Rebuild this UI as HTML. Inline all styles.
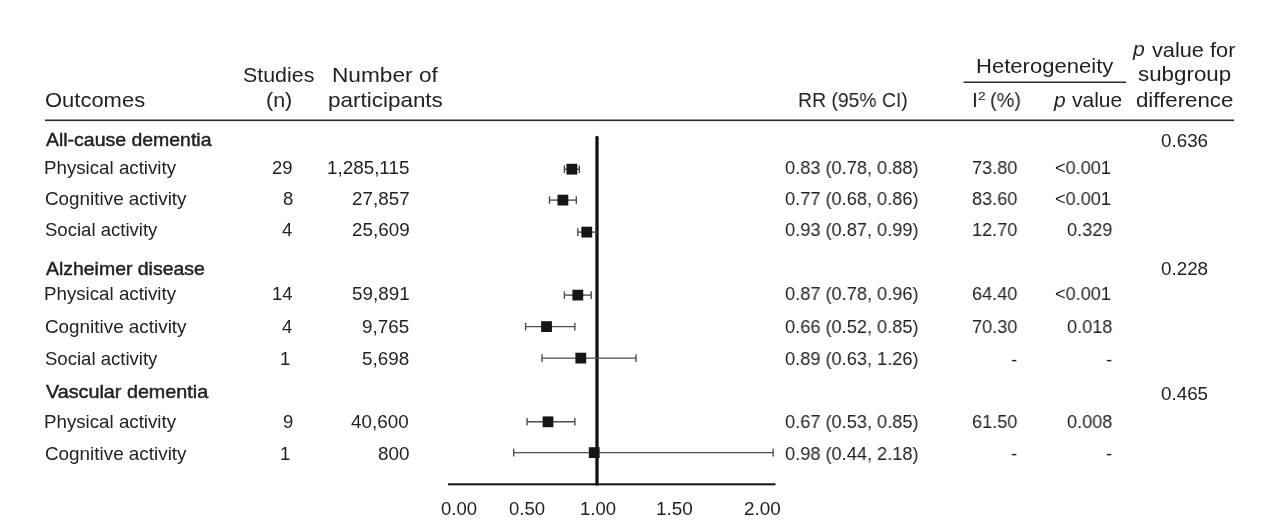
<!DOCTYPE html>
<html><head><meta charset="utf-8"><style>
html,body{margin:0;padding:0;background:#fff;}
body{width:1268px;height:524px;position:relative;overflow:hidden;font-family:"Liberation Sans",sans-serif;color:#222;}
.t{position:absolute;white-space:nowrap;transform-origin:0 0;will-change:transform;}
</style></head><body>
<svg width="1268" height="524" style="position:absolute;left:0;top:0">
<rect x="45" y="119.5" width="1189" height="1.6" fill="#2a2a2a"/>
<rect x="963.5" y="81.5" width="162.5" height="1.5" fill="#2a2a2a"/>
<line x1="597" y1="137.5" x2="597" y2="484" stroke="#111" stroke-width="3.3" stroke-linecap="round"/>
<rect x="448" y="483.3" width="327.5" height="2" fill="#111"/>
<line x1="564.40" y1="169.20" x2="579.31" y2="169.20" stroke="#4d4d4d" stroke-width="1.4"/><line x1="564.40" y1="165.40" x2="564.40" y2="173.00" stroke="#4d4d4d" stroke-width="1.4"/><line x1="579.31" y1="165.40" x2="579.31" y2="173.00" stroke="#4d4d4d" stroke-width="1.4"/><rect x="566.45" y="163.80" width="10.8" height="10.8" fill="#161616"/><line x1="549.49" y1="200.10" x2="576.33" y2="200.10" stroke="#4d4d4d" stroke-width="1.4"/><line x1="549.49" y1="196.30" x2="549.49" y2="203.90" stroke="#4d4d4d" stroke-width="1.4"/><line x1="576.33" y1="196.30" x2="576.33" y2="203.90" stroke="#4d4d4d" stroke-width="1.4"/><rect x="557.51" y="194.70" width="10.8" height="10.8" fill="#161616"/><line x1="577.82" y1="232.10" x2="595.71" y2="232.10" stroke="#4d4d4d" stroke-width="1.4"/><line x1="577.82" y1="228.30" x2="577.82" y2="235.90" stroke="#4d4d4d" stroke-width="1.4"/><line x1="595.71" y1="228.30" x2="595.71" y2="235.90" stroke="#4d4d4d" stroke-width="1.4"/><rect x="581.36" y="226.70" width="10.8" height="10.8" fill="#161616"/><line x1="564.40" y1="295.10" x2="591.24" y2="295.10" stroke="#4d4d4d" stroke-width="1.4"/><line x1="564.40" y1="291.30" x2="564.40" y2="298.90" stroke="#4d4d4d" stroke-width="1.4"/><line x1="591.24" y1="291.30" x2="591.24" y2="298.90" stroke="#4d4d4d" stroke-width="1.4"/><rect x="572.42" y="289.70" width="10.8" height="10.8" fill="#161616"/><line x1="525.63" y1="326.60" x2="574.84" y2="326.60" stroke="#4d4d4d" stroke-width="1.4"/><line x1="525.63" y1="322.80" x2="525.63" y2="330.40" stroke="#4d4d4d" stroke-width="1.4"/><line x1="574.84" y1="322.80" x2="574.84" y2="330.40" stroke="#4d4d4d" stroke-width="1.4"/><rect x="541.11" y="321.20" width="10.8" height="10.8" fill="#161616"/><line x1="542.03" y1="358.10" x2="635.97" y2="358.10" stroke="#4d4d4d" stroke-width="1.4"/><line x1="542.03" y1="354.30" x2="542.03" y2="361.90" stroke="#4d4d4d" stroke-width="1.4"/><line x1="635.97" y1="354.30" x2="635.97" y2="361.90" stroke="#4d4d4d" stroke-width="1.4"/><rect x="575.40" y="352.70" width="10.8" height="10.8" fill="#161616"/><line x1="527.12" y1="421.80" x2="574.84" y2="421.80" stroke="#4d4d4d" stroke-width="1.4"/><line x1="527.12" y1="418.00" x2="527.12" y2="425.60" stroke="#4d4d4d" stroke-width="1.4"/><line x1="574.84" y1="418.00" x2="574.84" y2="425.60" stroke="#4d4d4d" stroke-width="1.4"/><rect x="542.60" y="416.40" width="10.8" height="10.8" fill="#161616"/><line x1="513.70" y1="452.60" x2="773.14" y2="452.60" stroke="#4d4d4d" stroke-width="1.4"/><line x1="513.70" y1="448.80" x2="513.70" y2="456.40" stroke="#4d4d4d" stroke-width="1.4"/><line x1="773.14" y1="448.80" x2="773.14" y2="456.40" stroke="#4d4d4d" stroke-width="1.4"/><rect x="588.82" y="447.20" width="10.8" height="10.8" fill="#161616"/>
</svg>
<div class="t" style="left:44.55px;top:88.72px;font-size:21.0px;line-height:21.0px;transform:scaleX(1.0463);">Outcomes</div><div class="t" style="left:243.42px;top:63.72px;font-size:21.0px;line-height:21.0px;transform:scaleX(1.0185);">Studies</div><div class="t" style="left:266.47px;top:88.62px;font-size:21.0px;line-height:21.0px;transform:scaleX(1.0235);">(n)</div><div class="t" style="left:331.74px;top:63.72px;font-size:21.0px;line-height:21.0px;transform:scaleX(1.0794);">Number of</div><div class="t" style="left:327.76px;top:88.62px;font-size:21.0px;line-height:21.0px;transform:scaleX(1.0694);">participants</div><div class="t" style="left:798.01px;top:88.62px;font-size:21.0px;line-height:21.0px;transform:scaleX(0.9219);">RR (95% CI)</div><div class="t" style="left:975.59px;top:54.92px;font-size:21.0px;line-height:21.0px;transform:scaleX(1.0505);">Heterogeneity</div><div class="t" style="left:972.17px;top:88.92px;font-size:21.0px;line-height:21.0px;transform:scaleX(1.0000);">I</div><div class="t" style="left:978.21px;top:91.01px;font-size:10.5px;line-height:10.5px;transform:scaleX(1.3158);">2</div><div class="t" style="left:990.27px;top:88.92px;font-size:21.0px;line-height:21.0px;transform:scaleX(0.9457);">(%)</div><div class="t" style="left:1053.80px;top:88.92px;font-size:21.0px;line-height:21.0px;transform:scaleX(0.9906);font-style:italic;">p</div><div class="t" style="left:1071.52px;top:88.92px;font-size:21.0px;line-height:21.0px;transform:scaleX(1.0004);">value</div><div class="t" style="left:1133.41px;top:38.32px;font-size:21.0px;line-height:21.0px;transform:scaleX(1.0080);font-style:italic;">p</div><div class="t" style="left:1151.61px;top:38.52px;font-size:21.0px;line-height:21.0px;transform:scaleX(1.0350);">value for</div><div class="t" style="left:1137.77px;top:63.02px;font-size:21.0px;line-height:21.0px;transform:scaleX(1.0639);">subgroup</div><div class="t" style="left:1135.57px;top:89.42px;font-size:21.0px;line-height:21.0px;transform:scaleX(1.0594);">difference</div><div class="t" style="left:45.56px;top:131.04px;font-size:18.5px;line-height:18.5px;transform:scaleX(1.0516);-webkit-text-stroke:0.45px currentColor;">All-cause dementia</div><div class="t" style="left:1160.75px;top:132.34px;font-size:18.5px;line-height:18.5px;transform:scaleX(1.0171);">0.636</div><div class="t" style="left:44.47px;top:159.34px;font-size:18.5px;line-height:18.5px;transform:scaleX(1.0115);">Physical activity</div><div class="t" style="left:272.32px;top:159.34px;font-size:18.5px;line-height:18.5px;transform:scaleX(1.0000);">29</div><div class="t" style="left:326.72px;top:159.34px;font-size:18.5px;line-height:18.5px;transform:scaleX(1.0180);">1,285,115</div><div class="t" style="left:784.87px;top:159.34px;font-size:18.5px;line-height:18.5px;transform:scaleX(0.9840);">0.83 (0.78, 0.88)</div><div class="t" style="left:972.33px;top:159.34px;font-size:18.5px;line-height:18.5px;transform:scaleX(0.9800);">73.80</div><div class="t" style="left:1054.72px;top:159.34px;font-size:18.5px;line-height:18.5px;transform:scaleX(0.9800);">&lt;0.001</div><div class="t" style="left:45.06px;top:189.94px;font-size:18.5px;line-height:18.5px;transform:scaleX(1.0194);">Cognitive activity</div><div class="t" style="left:282.53px;top:189.94px;font-size:18.5px;line-height:18.5px;transform:scaleX(1.0000);">8</div><div class="t" style="left:351.65px;top:189.94px;font-size:18.5px;line-height:18.5px;transform:scaleX(1.0180);">27,857</div><div class="t" style="left:784.87px;top:189.94px;font-size:18.5px;line-height:18.5px;transform:scaleX(0.9840);">0.77 (0.68, 0.86)</div><div class="t" style="left:972.33px;top:189.94px;font-size:18.5px;line-height:18.5px;transform:scaleX(0.9800);">83.60</div><div class="t" style="left:1054.72px;top:189.94px;font-size:18.5px;line-height:18.5px;transform:scaleX(0.9800);">&lt;0.001</div><div class="t" style="left:45.15px;top:221.14px;font-size:18.5px;line-height:18.5px;transform:scaleX(1.0028);">Social activity</div><div class="t" style="left:282.27px;top:221.14px;font-size:18.5px;line-height:18.5px;transform:scaleX(1.0000);">4</div><div class="t" style="left:351.61px;top:221.14px;font-size:18.5px;line-height:18.5px;transform:scaleX(1.0180);">25,609</div><div class="t" style="left:784.87px;top:221.14px;font-size:18.5px;line-height:18.5px;transform:scaleX(0.9840);">0.93 (0.87, 0.99)</div><div class="t" style="left:972.33px;top:221.14px;font-size:18.5px;line-height:18.5px;transform:scaleX(0.9800);">12.70</div><div class="t" style="left:1067.01px;top:221.14px;font-size:18.5px;line-height:18.5px;transform:scaleX(0.9800);">0.329</div><div class="t" style="left:45.56px;top:259.74px;font-size:18.5px;line-height:18.5px;transform:scaleX(1.0506);-webkit-text-stroke:0.45px currentColor;">Alzheimer disease</div><div class="t" style="left:1160.75px;top:259.54px;font-size:18.5px;line-height:18.5px;transform:scaleX(1.0171);">0.228</div><div class="t" style="left:44.47px;top:285.24px;font-size:18.5px;line-height:18.5px;transform:scaleX(1.0115);">Physical activity</div><div class="t" style="left:271.98px;top:285.24px;font-size:18.5px;line-height:18.5px;transform:scaleX(1.0000);">14</div><div class="t" style="left:351.61px;top:285.24px;font-size:18.5px;line-height:18.5px;transform:scaleX(1.0180);">59,891</div><div class="t" style="left:784.87px;top:285.24px;font-size:18.5px;line-height:18.5px;transform:scaleX(0.9840);">0.87 (0.78, 0.96)</div><div class="t" style="left:972.33px;top:285.24px;font-size:18.5px;line-height:18.5px;transform:scaleX(0.9800);">64.40</div><div class="t" style="left:1054.72px;top:285.24px;font-size:18.5px;line-height:18.5px;transform:scaleX(0.9800);">&lt;0.001</div><div class="t" style="left:45.06px;top:318.34px;font-size:18.5px;line-height:18.5px;transform:scaleX(1.0194);">Cognitive activity</div><div class="t" style="left:282.27px;top:318.34px;font-size:18.5px;line-height:18.5px;transform:scaleX(1.0000);">4</div><div class="t" style="left:361.97px;top:318.34px;font-size:18.5px;line-height:18.5px;transform:scaleX(1.0180);">9,765</div><div class="t" style="left:784.87px;top:318.34px;font-size:18.5px;line-height:18.5px;transform:scaleX(0.9840);">0.66 (0.52, 0.85)</div><div class="t" style="left:972.33px;top:318.34px;font-size:18.5px;line-height:18.5px;transform:scaleX(0.9800);">70.30</div><div class="t" style="left:1066.94px;top:318.34px;font-size:18.5px;line-height:18.5px;transform:scaleX(0.9800);">0.018</div><div class="t" style="left:45.15px;top:349.94px;font-size:18.5px;line-height:18.5px;transform:scaleX(1.0028);">Social activity</div><div class="t" style="left:280.10px;top:349.94px;font-size:18.5px;line-height:18.5px;transform:scaleX(1.0000);">1</div><div class="t" style="left:362.01px;top:349.94px;font-size:18.5px;line-height:18.5px;transform:scaleX(1.0180);">5,698</div><div class="t" style="left:784.87px;top:349.94px;font-size:18.5px;line-height:18.5px;transform:scaleX(0.9840);">0.89 (0.63, 1.26)</div><div class="t" style="left:1011.23px;top:350.74px;font-size:18.5px;line-height:18.5px;transform:scaleX(1.0000);">-</div><div class="t" style="left:1106.13px;top:350.74px;font-size:18.5px;line-height:18.5px;transform:scaleX(1.0000);">-</div><div class="t" style="left:45.52px;top:383.34px;font-size:18.5px;line-height:18.5px;transform:scaleX(1.0680);-webkit-text-stroke:0.45px currentColor;">Vascular dementia</div><div class="t" style="left:1160.75px;top:384.54px;font-size:18.5px;line-height:18.5px;transform:scaleX(1.0163);">0.465</div><div class="t" style="left:44.47px;top:412.94px;font-size:18.5px;line-height:18.5px;transform:scaleX(1.0115);">Physical activity</div><div class="t" style="left:282.60px;top:412.94px;font-size:18.5px;line-height:18.5px;transform:scaleX(1.0000);">9</div><div class="t" style="left:351.42px;top:412.94px;font-size:18.5px;line-height:18.5px;transform:scaleX(1.0180);">40,600</div><div class="t" style="left:784.87px;top:412.94px;font-size:18.5px;line-height:18.5px;transform:scaleX(0.9840);">0.67 (0.53, 0.85)</div><div class="t" style="left:972.33px;top:412.94px;font-size:18.5px;line-height:18.5px;transform:scaleX(0.9800);">61.50</div><div class="t" style="left:1066.94px;top:412.94px;font-size:18.5px;line-height:18.5px;transform:scaleX(0.9800);">0.008</div><div class="t" style="left:45.06px;top:444.54px;font-size:18.5px;line-height:18.5px;transform:scaleX(1.0194);">Cognitive activity</div><div class="t" style="left:280.10px;top:444.54px;font-size:18.5px;line-height:18.5px;transform:scaleX(1.0000);">1</div><div class="t" style="left:377.60px;top:444.54px;font-size:18.5px;line-height:18.5px;transform:scaleX(1.0180);">800</div><div class="t" style="left:784.87px;top:444.54px;font-size:18.5px;line-height:18.5px;transform:scaleX(0.9840);">0.98 (0.44, 2.18)</div><div class="t" style="left:1011.23px;top:445.34px;font-size:18.5px;line-height:18.5px;transform:scaleX(1.0000);">-</div><div class="t" style="left:1106.13px;top:445.34px;font-size:18.5px;line-height:18.5px;transform:scaleX(1.0000);">-</div><div class="t" style="left:440.96px;top:499.84px;font-size:18.5px;line-height:18.5px;transform:scaleX(0.9954);">0.00</div><div class="t" style="left:508.66px;top:499.84px;font-size:18.5px;line-height:18.5px;transform:scaleX(0.9954);">0.50</div><div class="t" style="left:580.29px;top:499.84px;font-size:18.5px;line-height:18.5px;transform:scaleX(1.0002);">1.00</div><div class="t" style="left:655.56px;top:499.84px;font-size:18.5px;line-height:18.5px;transform:scaleX(1.0238);">1.50</div><div class="t" style="left:743.66px;top:499.84px;font-size:18.5px;line-height:18.5px;transform:scaleX(1.0182);">2.00</div>
</body></html>
